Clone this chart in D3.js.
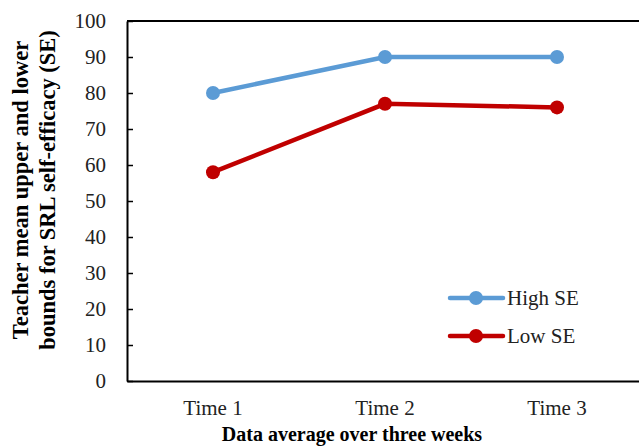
<!DOCTYPE html>
<html>
<head>
<meta charset="utf-8">
<script src="https://cdn.jsdelivr.net/npm/d3@7"></script>
<style>
  body { margin: 0; background: #fff; }
</style>
</head>
<body>
<svg id="chart" width="639" height="447"></svg>
<script>
var times = ["Time 1", "Time 2", "Time 3"]
var highSE = [80, 90, 90]
var lowSE = [58, 77, 76]
var yTicks = [0, 10, 20, 30, 40, 50, 60, 70, 80, 90, 100]

var serif = "Liberation Serif"
var svg = d3.select('#chart')
var plotLeft = 127, plotTop = 21, plotRight = 643, plotBottom = 381

var x = d3.scaleBand().domain(times).range([plotLeft, plotRight])
var y = d3.scaleLinear().domain([0, 100]).range([plotBottom, plotTop])

// top border of plot area
svg.append("line").attr("x1", plotLeft).attr("x2", plotRight).attr("y1", plotTop).attr("y2", plotTop)
  .style("stroke", "#000").style("stroke-width", 2)

var yAxis = svg.append("g").attr("transform", "translate(" + plotLeft + ",0)")
  .call(d3.axisLeft(y).tickValues(yTicks).tickSizeInner(-6).tickSizeOuter(0).tickPadding(21))
yAxis.select(".domain").style("stroke-width", 2)
yAxis.selectAll(".tick line").style("stroke-width", 1.5)
yAxis.selectAll("text").style("font-size", "21px").style("font-family", serif).style("fill", "#222")

var xAxis = svg.append("g").attr("transform", "translate(0," + plotBottom + ")")
  .call(d3.axisBottom(x).tickSize(0).tickPadding(19))
xAxis.select(".domain").style("stroke-width", 2)
xAxis.selectAll("text").style("font-size", "21px").style("font-family", serif).style("fill", "#222")

var series = [
  {name: "High SE", values: highSE, color: "#5B9BD5"},
  {name: "Low SE", values: lowSE, color: "#C00000"}
]

var line = d3.line().x(function(d, i) { return x(times[i]) + x.bandwidth() / 2 }).y(function(d) { return y(d) })

series.forEach(function(s) {
  svg.append("path").datum(s.values).attr("d", line)
    .style("fill", "none").style("stroke", s.color).style("stroke-width", 4.5)
  svg.selectAll(null).data(s.values).enter().append("circle")
    .attr("cx", function(d, i) { return x(times[i]) + x.bandwidth() / 2 })
    .attr("cy", function(d) { return y(d) })
    .attr("r", 7).style("fill", s.color)
})

// legend
series.forEach(function(s, i) {
  var ly = 298 + i * 38
  svg.append("line").attr("x1", 450).attr("x2", 503).attr("y1", ly).attr("y2", ly)
    .style("stroke", s.color).style("stroke-width", 4.5).style("stroke-linecap", "round")
  svg.append("circle").attr("cx", 476).attr("cy", ly).attr("r", 7).style("fill", s.color)
  svg.append("text").attr("x", 507).attr("y", ly + 7).text(s.name)
    .style("font-size", "21px").style("font-family", serif).style("fill", "#222")
})

svg.append("text").attr("x", 352).attr("y", 441).attr("text-anchor", "middle")
  .style("font-size", "20px").style("font-family", serif).style("font-weight", "bold")
  .text("Data average over three weeks")

var yt = svg.append("text").attr("transform", "translate(28,190) rotate(-90)")
  .attr("text-anchor", "middle").style("font-size", "22.5px").style("font-family", serif).style("font-weight", "bold")
yt.append("tspan").attr("x", 0).attr("y", 0).text("Teacher mean upper and lower")
yt.append("tspan").attr("x", 0).attr("y", 27).text("bounds for SRL self-efficacy (SE)")
</script>
</body>
</html>
